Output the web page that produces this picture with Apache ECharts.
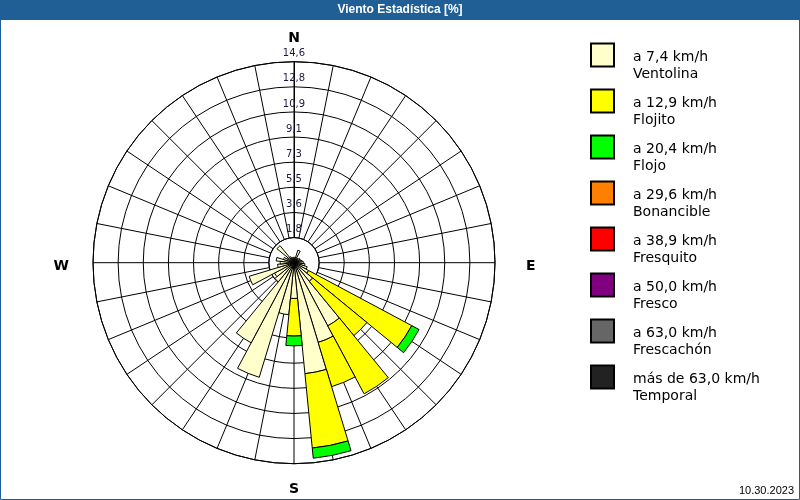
<!DOCTYPE html>
<html><head><meta charset="utf-8">
<script src="https://cdn.jsdelivr.net/npm/echarts@6/dist/echarts.min.js"></script>
<style>html,body{margin:0;padding:0;background:#fff}#c{width:800px;height:500px}</style>
</head><body><div id="c"></div>
<script>
// 32 compass directions, clockwise from North
const directions = ['N','NbE','NNE','NEbN','NE','NEbE','ENE','EbN','E','EbS','ESE','SEbE','SE','SEbS','SSE','SbE',
                    'S','SbW','SSW','SWbS','SW','SWbW','WSW','WbS','W','WbN','WNW','NWbW','NW','NWbN','NNW','NbW'];
const compassLabels = ['N','E','S','W'];
const sectorDeg = 11.25;
const ringLabels = ['1,8','3,6','5,5','7,3','9,1','10,9','12,8','14,6'];
const ringStep = 1.825;
const ringMax = 14.6;
const footerDate = '10.30.2023';
const chartTitle = 'Viento Estadística [%]';

const seriesNames = ['a 7,4 km/h\nVentolina','a 12,9 km/h\nFlojito','a 20,4 km/h\nFlojo','a 29,6 km/h\nBonancible',
                     'a 38,9 km/h\nFresquito','a 50,0 km/h\nFresco','a 63,0 km/h\nFrescachón','más de 63,0 km/h\nTemporal'];
const seriesColors = ['#ffffcc','#ffff00','#00ff00','#ff8000','#ff0000','#800080','#666666','#222222'];

// values in % per direction
const ventolina = [0.4,0.3,0.95,0.4,0.4,0.5,0.5,0.6, 0.7,0.8,1.0,1.2,1.75,5.2,6.05,8.1,
                   2.6,3.8,8.7,6.6,1.8,1.6,3.4,1.2, 1.0,1.3,0.8,0.6,1.6,0.5,0.4,0.3];
const flojito   = [0,0,0,0,0,0,0,0, 0,0,0,8.5,5.1,5.6,3.36,5.43,
                   2.73,0,0,0,0,0,0,0, 0,0,0,0,0,0,0,0];
const flojo     = [0,0,0,0,0,0,0,0, 0,0,0,0.6,0,0,0,0.74,
                   0.71,0,0,0,0,0,0,0, 0,0,0,0,0,0,0,0];
const bonancible = [];
const fresquito = [];
const fresco = [];
const frescachon = [];
const temporal = [];
const seriesData = [ventolina, flojito, flojo, bonancible, fresquito, fresco, frescachon, temporal];

const cx = 294, cy = 262.7, R = 201;
const compassFont = {fontFamily: 'DejaVu Sans', fontWeight: 'bold', fontSize: 14, color: '#000'};

const chart = echarts.init(document.getElementById('c'), null, {renderer: 'canvas'});
const option = {
  backgroundColor: '#ffffff',
  animation: false,
  graphic: [
    {type: 'rect', z: -10, shape: {x: 0, y: 0, width: 800, height: 20}, style: {fill: '#1f5f96'}},
    {type: 'rect', z: -10, shape: {x: 0.5, y: 0.5, width: 799, height: 499}, style: {fill: 'none', stroke: '#1f5f96', lineWidth: 1}}
  ],
  title: [
    {text: chartTitle, left: 'center', top: 4, padding: 0,
     textStyle: {color: '#ffffff', fontFamily: 'Liberation Sans', fontWeight: 'bold', fontSize: 12}},
    {text: footerDate, right: 6, bottom: 4, padding: 0,
     textStyle: {color: '#000', fontFamily: 'Liberation Sans', fontWeight: 'normal', fontSize: 11}}
  ],
  legend: {
    orient: 'vertical', left: 590, top: 31, padding: 0,
    itemWidth: 23, itemHeight: 23, itemGap: -4, icon: 'rect', selectedMode: false,
    formatter: name => '{s| }\n' + name.split('\n').map(t => '{t|' + t + '}').join('\n'),
    textStyle: {fontFamily: 'DejaVu Sans', fontSize: 14, color: '#000', padding: [0,0,0,14],
      rich: {
        s: {fontFamily: 'DejaVu Sans', fontSize: 14, lineHeight: 21},
        t: {fontFamily: 'DejaVu Sans', fontSize: 14, lineHeight: 17, color: '#000'}
      }},
    data: seriesNames
  },
  polar: [
    {center: [cx, cy], radius: [R / 8, R]},
    {center: [cx, cy], radius: [0, R]}
  ],
  angleAxis: [
    {polarIndex: 0, type: 'value', min: 0, max: 360, interval: sectorDeg, startAngle: 90, clockwise: true,
     axisLine: {show: true, lineStyle: {color: '#000', width: 1}},
     axisTick: {show: false},
     splitLine: {show: true, lineStyle: {color: '#000', width: 1}},
     axisLabel: Object.assign({interval: 0, margin: 16,
       formatter: v => {
         const k = v / 90;
         if (!Number.isInteger(k) || k > 3) return '';
         if (k === 1) return '{e|' + compassLabels[k] + '}';
         if (k === 2) return '{s|' + compassLabels[k] + '}';
         if (k === 3) return '{w|' + compassLabels[k] + '}';
         return compassLabels[k];
       },
       rich: {
         e: Object.assign({padding: [8, 0, 0, 15]}, compassFont),
         s: Object.assign({padding: [3, 0, 0, 0]}, compassFont),
         w: Object.assign({padding: [8, 8, 0, 0]}, compassFont)
       }}, compassFont)},
    {polarIndex: 1, type: 'category', data: directions, boundaryGap: false, startAngle: 90, clockwise: true,
     axisLine: {show: false}, axisTick: {show: false}, axisLabel: {show: false}, splitLine: {show: false}}
  ],
  radiusAxis: [
    {polarIndex: 0, min: ringStep, max: ringMax, interval: ringStep,
     axisLine: {show: true, lineStyle: {color: '#000', width: 1}}, axisTick: {show: false},
     splitLine: {show: true, lineStyle: {color: '#000', width: 1}},
     axisLabel: {margin: 0, align: 'center', verticalAlign: 'bottom', padding: [0,0,3,0],
                 fontFamily: 'DejaVu Sans', fontSize: 10, color: '#1a1a40',
                 formatter: v => ringLabels[Math.round(v / ringStep) - 1] || ''}},
    {polarIndex: 1, min: 0, max: ringMax, show: false,
     axisLine: {show: false}, axisTick: {show: false}, axisLabel: {show: false}, splitLine: {show: false}}
  ],
  series: seriesNames.map((name, i) => ({
    name: name, type: 'bar', coordinateSystem: 'polar', polarIndex: 1, stack: 'wind',
    barCategoryGap: '0%',
    data: seriesData[i].map(v => v ? v : null),
    itemStyle: {color: seriesColors[i], borderColor: '#000', borderWidth: 1}
  }))
};
chart.setOption(option);
</script></body></html>
